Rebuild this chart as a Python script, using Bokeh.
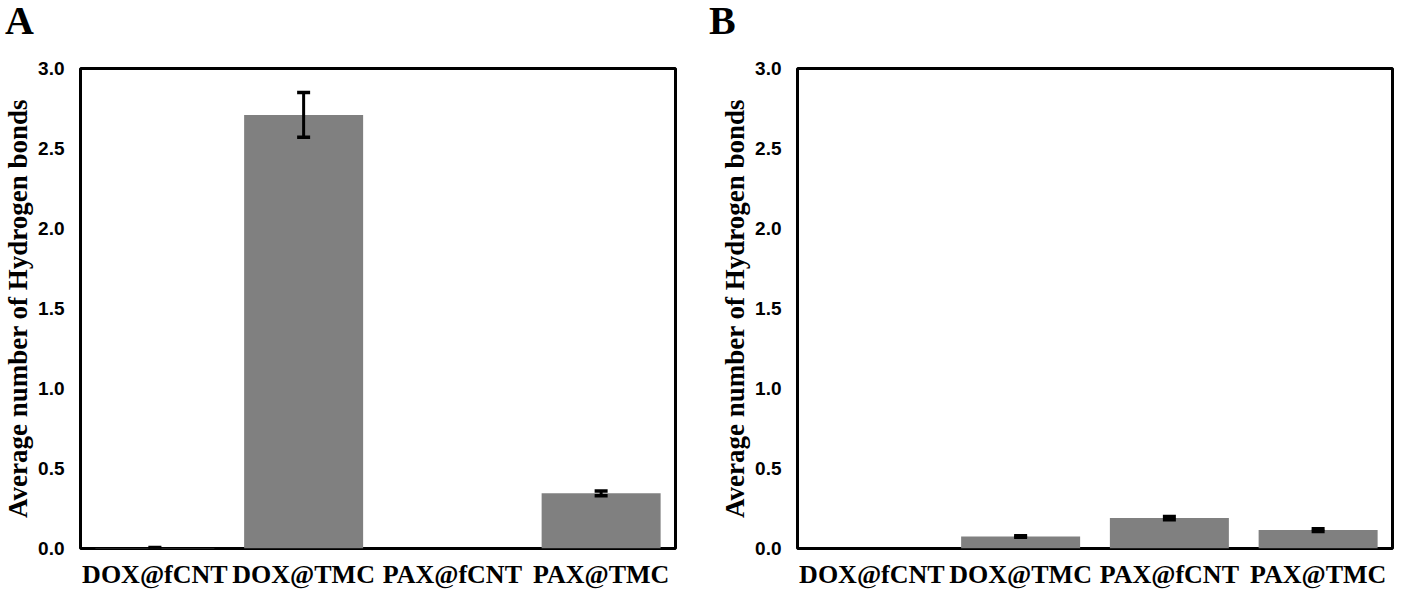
from bokeh.plotting import figure
from bokeh.models import ColumnDataSource, Whisker, TeeHead, NumeralTickFormatter, FixedTicker, Range1d, FactorRange, Div
from bokeh.layouts import row, column
from bokeh.embed import file_html
from bokeh.resources import INLINE

categories = ["DOX@fCNT", "DOX@TMC", "PAX@fCNT", "PAX@TMC"]
values_a = [0.003, 2.71, 0.0, 0.345]
errors_a = [0.003, 0.14, 0.0, 0.015]
values_b = [0.0, 0.075, 0.19, 0.115]
errors_b = [0.0, 0.005, 0.01, 0.008]
y_ticks = [0.0, 0.5, 1.0, 1.5, 2.0, 2.5, 3.0]
y_label = "Average number of Hydrogen bonds"
panel_letters = ["A", "B"]


def make_panel(values, errors, width, bl, br):
    p = figure(x_range=FactorRange(*categories), y_range=Range1d(0, 3.0),
               width=width, height=545, output_backend="svg", toolbar_location=None,
               min_border_left=bl, min_border_right=br, min_border_top=22, min_border_bottom=43)
    src = ColumnDataSource(dict(x=categories, top=values))
    p.vbar(x="x", top="top", width=0.8, source=src, fill_color="#808080", line_color=None)
    xs = [c for c, e in zip(categories, errors) if e > 0]
    ups = [v + e for v, e in zip(values, errors) if e > 0]
    lows = [v - e for v, e in zip(values, errors) if e > 0]
    wsrc = ColumnDataSource(dict(x=xs, upper=ups, lower=lows))
    w = Whisker(source=wsrc, base="x", upper="upper", lower="lower",
                line_width=3, line_color="black", level="overlay",
                upper_head=TeeHead(size=13, line_width=3.5, line_color="black"),
                lower_head=TeeHead(size=13, line_width=3.5, line_color="black"))
    p.add_layout(w)

    p.xgrid.grid_line_color = None
    p.ygrid.grid_line_color = None
    p.outline_line_color = "black"
    p.outline_line_width = 3
    p.outline_line_alpha = 1

    p.yaxis.ticker = FixedTicker(ticks=y_ticks)
    p.yaxis.formatter = NumeralTickFormatter(format="0.0")
    p.yaxis.axis_line_color = None
    p.yaxis.major_tick_line_color = None
    p.yaxis.minor_tick_line_color = None
    p.yaxis.major_label_text_font = "Liberation Sans"
    p.yaxis.major_label_text_font_style = "bold"
    p.yaxis.major_label_text_font_size = "19px"
    p.yaxis.major_label_text_color = "black"
    p.yaxis.major_label_standoff = 10
    p.yaxis.axis_label = y_label
    p.yaxis.axis_label_text_font = "Liberation Serif"
    p.yaxis.axis_label_text_font_style = "bold"
    p.yaxis.axis_label_text_font_size = "27px"
    p.yaxis.axis_label_text_color = "black"
    p.yaxis.axis_label_standoff = 2

    p.xaxis.axis_line_color = None
    p.xaxis.major_tick_line_color = None
    p.xaxis.minor_tick_line_color = None
    p.xaxis.major_label_text_font = "Liberation Serif"
    p.xaxis.major_label_text_font_style = "bold"
    p.xaxis.major_label_text_font_size = "26px"
    p.xaxis.major_label_text_color = "black"
    p.xaxis.major_label_standoff = 5
    return p


def letter_div(letter, pad):
    return Div(text=letter, width=709, height=46, margin=0,
               styles={"font-family": "Liberation Serif", "font-size": "40px",
                       "font-weight": "bold", "line-height": "42px", "color": "black",
                       "padding-left": f"{pad}px"})


pa = make_panel(values_a, errors_a, 709, 79, 34)
pb = make_panel(values_b, errors_b, 709, 88, 26)
layout = column(row(letter_div(panel_letters[0], 5), letter_div(panel_letters[1], 0)),
                row(pa, pb))
open("out.html", "w").write(file_html(layout, INLINE))
